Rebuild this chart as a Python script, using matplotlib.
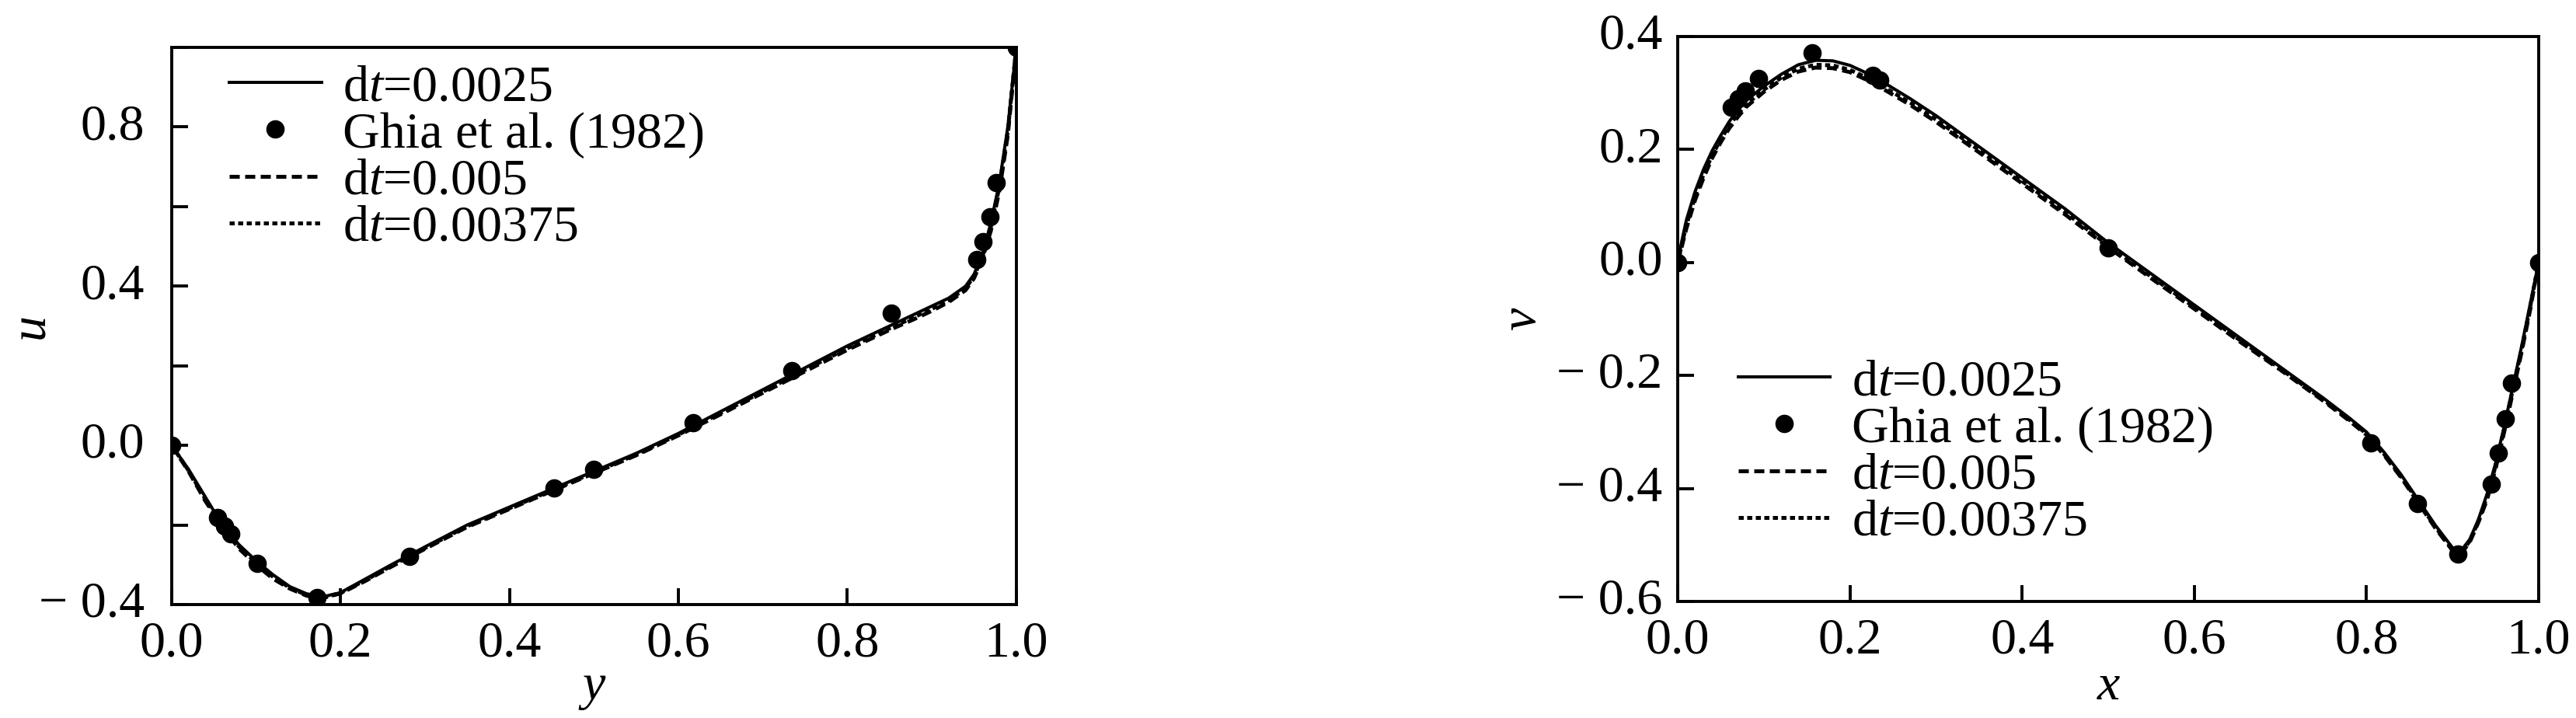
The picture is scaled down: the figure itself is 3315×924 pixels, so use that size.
import matplotlib
matplotlib.use("Agg")
import matplotlib.pyplot as plt
from matplotlib.ticker import FuncFormatter, MultipleLocator

plt.rcParams['font.family'] = ['Liberation Serif', 'DejaVu Serif']
plt.rcParams['mathtext.fontset'] = 'custom'
plt.rcParams['mathtext.rm'] = 'Liberation Serif'
plt.rcParams['mathtext.it'] = 'Liberation Serif:italic'

# Ghia et al. (1982), Re = 1000
ghia_y = [0.0, 0.0547, 0.0625, 0.0703, 0.1016, 0.1719, 0.2813, 0.4531, 0.5,
          0.6172, 0.7344, 0.8516, 0.9531, 0.9609, 0.9688, 0.9766, 1.0]
ghia_u = [0.0, -0.18109, -0.20196, -0.2222, -0.2973, -0.38289, -0.27805, -0.10648,
          -0.0608, 0.05702, 0.18719, 0.33304, 0.46604, 0.51117, 0.57492, 0.65928, 1.0]
ghia_x = [0.0, 0.0625, 0.0703, 0.0781, 0.0938, 0.1563, 0.2266, 0.2344, 0.5,
          0.8047, 0.8594, 0.9063, 0.9453, 0.9531, 0.9609, 0.9688, 1.0]
ghia_v = [0.0, 0.27485, 0.29012, 0.30353, 0.32627, 0.37095, 0.33075, 0.32235, 0.02526,
          -0.31966, -0.42665, -0.5155, -0.39188, -0.33714, -0.27669, -0.21388, 0.0]

# u along vertical centre line
sim_y = [0.0, 0.02, 0.04, 0.06, 0.08, 0.10, 0.12, 0.14, 0.16, 0.18, 0.20, 0.23, 0.26,
         0.30, 0.35, 0.40, 0.45, 0.50, 0.55, 0.60, 0.65, 0.70, 0.75, 0.80, 0.85, 0.88,
         0.90, 0.92, 0.94, 0.95, 0.96, 0.97, 0.98, 0.99, 1.0]
u_0025 = [0.0, -0.06, -0.13, -0.20, -0.25, -0.29, -0.325, -0.355, -0.373, -0.38, -0.37,
          -0.335, -0.30, -0.255, -0.20, -0.155, -0.11, -0.065, -0.02, 0.03, 0.085, 0.14,
          0.195, 0.25, 0.30, 0.33, 0.35, 0.37, 0.40, 0.43, 0.48, 0.56, 0.66, 0.80, 1.0]
u_005 = [0.0, -0.065, -0.14, -0.205, -0.26, -0.30, -0.335, -0.36, -0.378, -0.383, -0.372,
         -0.34, -0.305, -0.26, -0.205, -0.16, -0.115, -0.07, -0.025, 0.025, 0.078, 0.132,
         0.186, 0.24, 0.29, 0.318, 0.338, 0.36, 0.39, 0.42, 0.47, 0.54, 0.64, 0.78, 1.0]
u_00375 = [0.0, -0.063, -0.135, -0.203, -0.255, -0.295, -0.33, -0.358, -0.376, -0.382, -0.371,
           -0.338, -0.303, -0.258, -0.203, -0.158, -0.113, -0.068, -0.023, 0.027, 0.081, 0.135,
           0.19, 0.244, 0.294, 0.323, 0.343, 0.364, 0.395, 0.425, 0.475, 0.55, 0.65, 0.79, 1.0]

# v along horizontal centre line
sim_x = [0.0, 0.005, 0.01, 0.02, 0.03, 0.04, 0.05, 0.06, 0.07, 0.08, 0.10, 0.12, 0.14,
         0.16, 0.18, 0.20, 0.22, 0.24, 0.27, 0.30, 0.35, 0.40, 0.45, 0.50, 0.55, 0.60,
         0.65, 0.70, 0.75, 0.78, 0.80, 0.82, 0.84, 0.86, 0.88, 0.90, 0.91, 0.92, 0.93,
         0.94, 0.95, 0.96, 0.97, 0.98, 0.99, 1.0]
v_0025 = [0.0, 0.04, 0.075, 0.125, 0.165, 0.198, 0.225, 0.25, 0.27, 0.287, 0.312, 0.333,
          0.35, 0.358, 0.357, 0.349, 0.335, 0.318, 0.29, 0.26, 0.205, 0.15, 0.095, 0.035,
          -0.02, -0.075, -0.13, -0.185, -0.24, -0.275, -0.30, -0.335, -0.375, -0.42, -0.465,
          -0.505, -0.51, -0.49, -0.455, -0.41, -0.355, -0.29, -0.22, -0.15, -0.075, 0.0]
v_005 = [0.0, 0.03, 0.06, 0.11, 0.15, 0.185, 0.213, 0.238, 0.258, 0.276, 0.302, 0.323,
         0.338, 0.345, 0.344, 0.337, 0.323, 0.306, 0.279, 0.249, 0.195, 0.14, 0.085, 0.027,
         -0.028, -0.082, -0.137, -0.19, -0.245, -0.28, -0.305, -0.34, -0.38, -0.425, -0.47,
         -0.51, -0.515, -0.495, -0.46, -0.42, -0.365, -0.3, -0.23, -0.16, -0.085, 0.0]
v_00375 = [0.0, 0.034, 0.066, 0.116, 0.156, 0.19, 0.218, 0.243, 0.263, 0.28, 0.306, 0.327,
           0.343, 0.35, 0.349, 0.341, 0.327, 0.31, 0.283, 0.253, 0.199, 0.144, 0.089, 0.03,
           -0.025, -0.079, -0.134, -0.188, -0.243, -0.278, -0.303, -0.338, -0.378, -0.423, -0.468,
           -0.508, -0.513, -0.493, -0.458, -0.415, -0.36, -0.295, -0.225, -0.155, -0.08, 0.0]

labels = [r"d$t$=0.0025", "Ghia et al. (1982)", r"d$t$=0.005", r"d$t$=0.00375"]

FS = 47.5


def fmt(val, pos):
    s = "%.1f" % abs(val)
    if val < -1e-9:
        return "\u2212 " + s
    return s


def style_axes(ax, ypad):
    for sp in ax.spines.values():
        sp.set_linewidth(2.8)
    ax.tick_params(which='both', direction='in', top=False, right=False,
                   length=15, width=2.8, labelsize=FS)
    ax.tick_params(axis='x', pad=15)
    ax.tick_params(axis='y', pad=ypad)
    ax.xaxis.set_major_formatter(FuncFormatter(fmt))
    ax.yaxis.set_major_formatter(FuncFormatter(fmt))
    for t in ax.get_yticklabels():
        t.set_verticalalignment('center')


def draw(ax, xs, s1, gx, gy, s2, s3):
    ax.plot(xs, s1, color='black', lw=2.9, ls='-', label=labels[0])
    ax.plot(gx, gy, 'o', color='black', ms=16, label=labels[1])
    ax.plot(xs, s2, color='black', lw=3.6, ls=(0, (2.6, 1.4)), label=labels[2])
    ax.plot(xs, s3, color='black', lw=3.6, ls=(0, (1.3, 0.9)), label=labels[3])


def add_legend(ax, x, y):
    ax.legend(loc='upper left', bbox_to_anchor=(x, y), frameon=False, fontsize=FS,
              handlelength=1.8, handletextpad=0.42, labelspacing=0.0, borderpad=0.0,
              borderaxespad=0.0)


fig = plt.figure(figsize=(33.16, 9.24), dpi=100)

ax1 = fig.add_axes([0.0666, 0.158, 0.3278, 0.776])
draw(ax1, sim_y, u_0025, ghia_y, ghia_u, u_005, u_00375)
ax1.set_xlim(0, 1)
ax1.set_ylim(-0.4, 1.0)
ax1.xaxis.set_major_locator(MultipleLocator(0.2))
ax1.yaxis.set_major_locator(MultipleLocator(0.4))
ax1.yaxis.set_minor_locator(MultipleLocator(0.2))
style_axes(ax1, 25)
ax1.set_xlabel("y", fontsize=FS, style='italic')
ax1.set_ylabel("u", fontsize=FS, style='italic')
ax1.xaxis.set_label_coords(0.5, -0.107)
ax1.yaxis.set_label_coords(-0.139, 0.5)
add_legend(ax1, 0.068, 0.969)

ax2 = fig.add_axes([0.6511, 0.1623, 0.3341, 0.7868])
draw(ax2, sim_x, v_0025, ghia_x, ghia_v, v_005, v_00375)
ax2.set_xlim(0, 1)
ax2.set_ylim(-0.6, 0.4)
ax2.xaxis.set_major_locator(MultipleLocator(0.2))
ax2.yaxis.set_major_locator(MultipleLocator(0.2))
style_axes(ax2, 14)
ax2.set_xlabel("x", fontsize=FS, style='italic')
ax2.set_ylabel("v", fontsize=FS, style='italic')
ax2.xaxis.set_label_coords(0.5, -0.111)
ax2.yaxis.set_label_coords(-0.153, 0.5)
add_legend(ax2, 0.070, 0.429)

fig.savefig("out.png", dpi=100)
